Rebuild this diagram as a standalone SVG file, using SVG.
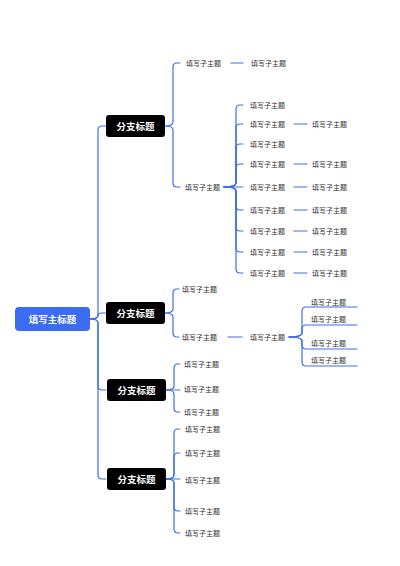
<svg xmlns="http://www.w3.org/2000/svg" width="400" height="566" viewBox="0 0 400 566">
<style>
.c{fill:none;stroke:#3e70e6;stroke-width:1.2;stroke-linecap:round}
.t{font-family:"Noto Sans CJK SC","Noto Sans",sans-serif;font-size:7px;fill:#333;dominant-baseline:central}
.b{fill:#000}
.bt{font-family:"Noto Sans CJK SC","Noto Sans",sans-serif;font-size:9.5px;font-weight:bold;fill:#fff;text-anchor:middle;dominant-baseline:central}
</style>
<rect width="400" height="566" fill="#fff"/>
<g id="connectors">
<path class="c" d="M90,319 Q98,319 98,315 V130 Q98,126 102,126 H106"/>
<path class="c" d="M90,319 Q98,319 98,316 Q98,313 101,313 H106"/>
<path class="c" d="M90,319 Q98,319 98,323 V386 Q98,390 102,390 H106"/>
<path class="c" d="M90,319 Q98,319 98,323 V475 Q98,479 102,479 H106"/>
<path class="c" d="M165,126 Q173,126 173,122 V67 Q173,63 177,63 H180"/>
<path class="c" d="M165,126 Q173,126 173,130 V183 Q173,187 177,187 H180"/>
<path class="c" d="M231,63 H243"/>
<path class="c" d="M224,187 Q236,187 236,183 V109 Q236,105 240,105 H243"/>
<path class="c" d="M224,187 Q236,187 236,183 V128 Q236,124 240,124 H243"/>
<path class="c" d="M224,187 Q236,187 236,183 V148 Q236,144 240,144 H243"/>
<path class="c" d="M224,187 Q236,187 236,183 V168 Q236,164 240,164 H243"/>
<path class="c" d="M224,187 H243"/>
<path class="c" d="M224,187 Q236,187 236,191 V206 Q236,210 240,210 H243"/>
<path class="c" d="M224,187 Q236,187 236,191 V227 Q236,231 240,231 H243"/>
<path class="c" d="M224,187 Q236,187 236,191 V248 Q236,252 240,252 H243"/>
<path class="c" d="M224,187 Q236,187 236,191 V269 Q236,273 240,273 H243"/>
<path class="c" d="M294,124 H307"/>
<path class="c" d="M294,164 H307"/>
<path class="c" d="M294,187 H307"/>
<path class="c" d="M294,210 H307"/>
<path class="c" d="M294,231 H307"/>
<path class="c" d="M294,252 H307"/>
<path class="c" d="M294,273 H307"/>
<path class="c" d="M165,313 Q173,313 173,309 V293 Q173,289 177,289 H179"/>
<path class="c" d="M165,313 Q173,313 173,317 V333 Q173,337 177,337 H179"/>
<path class="c" d="M228,337 H242"/>
<path class="c" d="M289,337 Q302,337 302,333 V311 Q302,307 306,307 H357"/>
<path class="c" d="M289,337 Q302,337 302,333 V329 Q302,325 306,325 H357"/>
<path class="c" d="M289,337 Q302,337 302,341 V345 Q302,349 306,349 H357"/>
<path class="c" d="M289,337 Q302,337 302,341 V362 Q302,366 306,366 H357"/>
<path class="c" d="M166,390 Q174,390 174,386 V368 Q174,364 178,364 H180"/>
<path class="c" d="M166,390 H180"/>
<path class="c" d="M166,390 Q174,390 174,394 V408 Q174,412 178,412 H180"/>
<path class="c" d="M166,479 Q174,479 174,475 V433 Q174,429 178,429 H180"/>
<path class="c" d="M166,479 Q174,479 174,475 V457 Q174,453 178,453 H180"/>
<path class="c" d="M166,479 H180"/>
<path class="c" d="M166,479 Q174,479 174,483 V507 Q174,511 178,511 H180"/>
<path class="c" d="M166,479 Q174,479 174,483 V529 Q174,533 178,533 H180"/>
</g>
<g id="root"><rect x="15" y="307" width="75" height="24" rx="4" fill="#3a6df0"/><text class="bt" x="52.5" y="319" font-size="10.5">填写主标题</text></g>
<g id="branch1"><rect class="b" x="106" y="115" width="59" height="22" rx="3"/><text class="bt" x="135.5" y="126">分支标题</text></g>
<g id="branch2"><rect class="b" x="106" y="302" width="59" height="22" rx="3"/><text class="bt" x="135.5" y="313">分支标题</text></g>
<g id="branch3"><rect class="b" x="107" y="379" width="59" height="22" rx="3"/><text class="bt" x="136.5" y="390">分支标题</text></g>
<g id="branch4"><rect class="b" x="107" y="468" width="59" height="22" rx="3"/><text class="bt" x="136.5" y="479">分支标题</text></g>
<g id="b1-1"><text class="t" x="186" y="63">填写子主题</text></g>
<g id="b1-1-1"><text class="t" x="251" y="63">填写子主题</text></g>
<g id="b1-2"><text class="t" x="185" y="187">填写子主题</text></g>
<g id="b1-2-1"><text class="t" x="250" y="105">填写子主题</text></g>
<g id="b1-2-2"><text class="t" x="250" y="124">填写子主题</text></g>
<g id="b1-2-3"><text class="t" x="250" y="144">填写子主题</text></g>
<g id="b1-2-4"><text class="t" x="250" y="164">填写子主题</text></g>
<g id="b1-2-5"><text class="t" x="250" y="187">填写子主题</text></g>
<g id="b1-2-6"><text class="t" x="250" y="210">填写子主题</text></g>
<g id="b1-2-7"><text class="t" x="250" y="231">填写子主题</text></g>
<g id="b1-2-8"><text class="t" x="250" y="252">填写子主题</text></g>
<g id="b1-2-9"><text class="t" x="250" y="273">填写子主题</text></g>
<g id="b1-2-2-1"><text class="t" x="312" y="124">填写子主题</text></g>
<g id="b1-2-4-1"><text class="t" x="312" y="164">填写子主题</text></g>
<g id="b1-2-5-1"><text class="t" x="312" y="187">填写子主题</text></g>
<g id="b1-2-6-1"><text class="t" x="312" y="210">填写子主题</text></g>
<g id="b1-2-7-1"><text class="t" x="312" y="231">填写子主题</text></g>
<g id="b1-2-8-1"><text class="t" x="312" y="252">填写子主题</text></g>
<g id="b1-2-9-1"><text class="t" x="312" y="273">填写子主题</text></g>
<g id="b2-1"><text class="t" x="182" y="289">填写子主题</text></g>
<g id="b2-2"><text class="t" x="182" y="337">填写子主题</text></g>
<g id="b2-2-1"><text class="t" x="250" y="337">填写子主题</text></g>
<g id="b2-2-1-1"><text class="t" x="311" y="302">填写子主题</text></g>
<g id="b2-2-1-2"><text class="t" x="311" y="319">填写子主题</text></g>
<g id="b2-2-1-3"><text class="t" x="311" y="343">填写子主题</text></g>
<g id="b2-2-1-4"><text class="t" x="311" y="360">填写子主题</text></g>
<g id="b3-1"><text class="t" x="184" y="364">填写子主题</text></g>
<g id="b3-2"><text class="t" x="184" y="389">填写子主题</text></g>
<g id="b3-3"><text class="t" x="184" y="412">填写子主题</text></g>
<g id="b4-1"><text class="t" x="185" y="429">填写子主题</text></g>
<g id="b4-2"><text class="t" x="185" y="453">填写子主题</text></g>
<g id="b4-3"><text class="t" x="185" y="480">填写子主题</text></g>
<g id="b4-4"><text class="t" x="185" y="511">填写子主题</text></g>
<g id="b4-5"><text class="t" x="185" y="533">填写子主题</text></g>
</svg>
